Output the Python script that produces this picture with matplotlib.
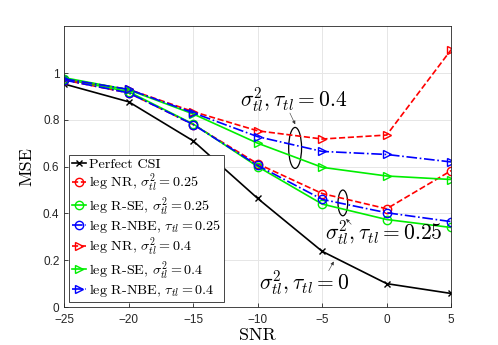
import matplotlib
matplotlib.use("Agg")
import matplotlib.pyplot as plt
from matplotlib.patches import Ellipse

# =========================
# 数据
# =========================

snr = [-25, -20, -15, -10, -5, 0, 5]

perfect_csi = [0.953, 0.877, 0.71, 0.464, 0.238, 0.10, 0.058]

nr_025 = [0.97, 0.915, 0.78, 0.612, 0.485, 0.42, 0.583]
rse_025 = [0.975, 0.92, 0.782, 0.60, 0.44, 0.374, 0.34]
rnbe_025 = [0.97, 0.915, 0.78, 0.605, 0.46, 0.403, 0.365]

nr_04 = [0.975, 0.93, 0.835, 0.753, 0.718, 0.735, 1.10]
rse_04 = [0.98, 0.928, 0.825, 0.70, 0.597, 0.56, 0.545]
rnbe_04 = [0.975, 0.93, 0.83, 0.728, 0.665, 0.652, 0.62]

labels = [
    "Perfect CSI",
    r"leg NR, $\sigma_{tl}^2 = 0.25$",
    r"leg R-SE, $\sigma_{tl}^2 = 0.25$",
    r"leg R-NBE, $\tau_{tl} = 0.25$",
    r"leg NR, $\sigma_{tl}^2 = 0.4$",
    r"leg R-SE, $\sigma_{tl}^2 = 0.4$",
    r"leg R-NBE, $\tau_{tl} = 0.4$",
]

plt.rcParams["mathtext.fontset"] = "cm"
serif = "cmr10"

fig = plt.figure(figsize=(4.98, 3.45), dpi=100)
ax = fig.add_axes([0.129, 0.110, 0.777, 0.814])

ax.plot(snr, perfect_csi, color="black", marker="x", ms=5, lw=1.2, label=labels[0])
ax.plot(snr, nr_025, color="red", ls="--", marker="o", mfc="none", ms=6, lw=1.2, label=labels[1])
ax.plot(snr, rse_025, color="#00ee00", ls="-", marker="o", mfc="none", ms=6, lw=1.2, label=labels[2])
ax.plot(snr, rnbe_025, color="blue", ls="-.", marker="o", mfc="none", ms=6, lw=1.2, label=labels[3])
ax.plot(snr, nr_04, color="red", ls="--", marker=">", mfc="none", ms=6, lw=1.2, label=labels[4])
ax.plot(snr, rse_04, color="#00ee00", ls="-", marker=">", mfc="none", ms=6, lw=1.2, label=labels[5])
ax.plot(snr, rnbe_04, color="blue", ls="-.", marker=">", mfc="none", ms=6, lw=1.2, label=labels[6])

ax.set_xlim(-25, 5)
ax.set_ylim(0, 1.2)
ax.set_xticks([-25, -20, -15, -10, -5, 0, 5])
ax.set_yticks([0, 0.2, 0.4, 0.6, 0.8, 1])
ax.set_yticklabels(["0", "0.2", "0.4", "0.6", "0.8", "1"])
ax.grid(True, color="#e6e6e6", lw=0.7)
ax.set_axisbelow(True)
for s in ax.spines.values():
    s.set_color("#262626")
    s.set_linewidth(0.6)
ax.tick_params(labelsize=8.5, direction="in", length=3, width=0.6, colors="#262626")
ax.tick_params(axis="x", pad=5)
for t in ax.get_xticklabels() + ax.get_yticklabels():
    t.set_family("Liberation Sans")

ax.set_xlabel("SNR", family=serif, fontsize=13, labelpad=1)
ax.set_ylabel("MSE", family=serif, fontsize=13, labelpad=6)

leg = ax.legend(loc="lower left", prop={"family": serif, "size": 10.2},
                handlelength=1.0, handletextpad=0.2, labelspacing=0.04,
                borderpad=0.2, borderaxespad=0.35, fancybox=False, framealpha=1)
leg.get_frame().set_edgecolor("#262626")
leg.get_frame().set_linewidth(0.6)

# 标注
ax.add_patch(Ellipse((-7.1, 0.68), 1.0, 0.175, fill=False, color="black", lw=0.9))
ax.add_patch(Ellipse((-3.4, 0.445), 0.75, 0.11, fill=False, color="black", lw=0.9))

ax.text(-7.2, 0.885, r"$\sigma_{tl}^2, \tau_{tl} = 0.4$", fontsize=15.5, ha="center", va="center")
ax.text(-0.2, 0.315, r"$\sigma_{tl}^2, \tau_{tl} = 0.25$", fontsize=15.5, ha="center", va="center")
ax.text(-6.4, 0.10, r"$\sigma_{tl}^2, \tau_{tl} = 0$", fontsize=15.5, ha="center", va="center")

ax.annotate("", xy=(-7.0, 0.77), xytext=(-7.6, 0.84),
            arrowprops=dict(arrowstyle="-|>", lw=0.4, color="#333333", mutation_scale=5))
ax.annotate("", xy=(-3.3, 0.385), xytext=(-2.6, 0.345),
            arrowprops=dict(arrowstyle="-|>", lw=0.4, color="#333333", mutation_scale=5))
ax.annotate("", xy=(-4.0, 0.205), xytext=(-4.6, 0.145),
            arrowprops=dict(arrowstyle="-|>", lw=0.4, color="#333333", mutation_scale=5))

fig.savefig("out.png", dpi=100)
